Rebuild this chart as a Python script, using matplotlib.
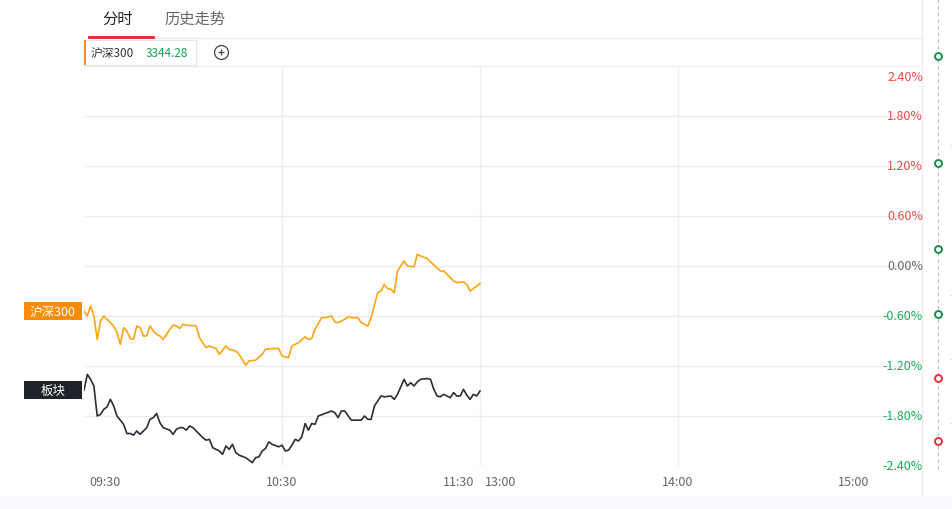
import matplotlib
matplotlib.use('Agg')
import matplotlib.pyplot as plt
from matplotlib.transforms import blended_transform_factory, offset_copy
from matplotlib.patches import Rectangle
from matplotlib.lines import Line2D

plt.rcParams['font.family'] = ['Noto Sans CJK SC', 'DejaVu Sans']

# ---------------- data ----------------
# minutes since 09:30 (trading minutes; 120 = 11:30 / 13:00, 240 = 15:00)
hs300_min = [0, 1, 2, 3, 4, 5, 6, 7, 9, 10, 11, 12, 13, 14, 15, 16, 17, 18, 19, 20,
             21, 22, 23, 24, 25, 26, 27, 28, 29, 30, 31, 34, 35, 37, 38, 40, 41, 43, 44, 46,
             47, 49, 50, 52, 54, 55, 57, 59, 60, 62, 63, 65, 67, 68, 69, 70, 72, 73, 75, 76,
             77, 79, 80, 81, 83, 84, 86, 87, 89, 90, 91, 92, 93, 94, 95, 97, 98, 100, 101, 102,
             104, 105, 108, 109, 112, 113, 115, 116, 117, 118, 120]
hs300_pct = [-0.54, -0.60, -0.48, -0.60, -0.88, -0.66, -0.60, -0.64, -0.72, -0.80,
             -0.94, -0.74, -0.78, -0.87, -0.88, -0.72, -0.74, -0.84, -0.84, -0.72,
             -0.78, -0.82, -0.84, -0.88, -0.82, -0.76, -0.71, -0.72, -0.75, -0.70,
             -0.71, -0.72, -0.86, -0.98, -0.96, -0.99, -1.06, -0.96, -1.00, -1.02,
             -1.06, -1.19, -1.14, -1.13, -1.06, -1.00, -0.99, -0.99, -1.08, -1.10,
             -0.96, -0.92, -0.85, -0.88, -0.87, -0.76, -0.62, -0.62, -0.60, -0.67,
             -0.68, -0.64, -0.61, -0.62, -0.62, -0.68, -0.72, -0.62, -0.32, -0.30,
             -0.22, -0.27, -0.28, -0.32, -0.06, 0.06, 0.00, -0.01, 0.14, 0.12,
             0.09, 0.05, -0.06, -0.06, -0.18, -0.20, -0.19, -0.22, -0.30, -0.27,
             -0.21]

sector_min = [0, 1, 2, 3, 4, 5, 6, 7, 8, 9, 10, 12, 13, 14, 15, 16, 17, 19, 20, 21,
              22, 23, 24, 26, 27, 28, 29, 30, 31, 32, 33, 35, 36, 37, 38, 39, 41, 42, 43, 44,
              45, 46, 47, 49, 51, 52, 53, 54, 55, 56, 57, 59, 60, 61, 62, 63, 64, 65, 66, 67,
              68, 69, 70, 71, 73, 75, 76, 77, 78, 79, 81, 84, 85, 86, 87, 88, 90, 91, 93, 94,
              95, 97, 98, 99, 100, 101, 102, 104, 105, 106, 107, 108, 109, 110, 111, 112, 113, 114, 115, 116,
              117, 118, 119, 120]
sector_pct = [-1.49, -1.30, -1.36, -1.44, -1.80, -1.78, -1.72, -1.69, -1.60, -1.68,
              -1.80, -1.90, -2.01, -2.01, -2.03, -1.98, -2.02, -1.94, -1.84, -1.82,
              -1.77, -1.88, -1.94, -1.97, -2.02, -1.96, -1.94, -1.94, -1.97, -1.92,
              -1.94, -2.02, -2.06, -2.09, -2.08, -2.18, -2.22, -2.26, -2.16, -2.20,
              -2.14, -2.24, -2.27, -2.30, -2.36, -2.30, -2.29, -2.22, -2.19, -2.11,
              -2.14, -2.17, -2.15, -2.22, -2.21, -2.15, -2.08, -2.10, -2.05, -1.89,
              -1.97, -1.89, -1.90, -1.80, -1.77, -1.74, -1.76, -1.82, -1.74, -1.74,
              -1.85, -1.85, -1.80, -1.84, -1.84, -1.68, -1.56, -1.57, -1.56, -1.60,
              -1.54, -1.36, -1.44, -1.40, -1.44, -1.39, -1.36, -1.35, -1.36, -1.48,
              -1.56, -1.57, -1.54, -1.56, -1.58, -1.52, -1.56, -1.56, -1.48, -1.55,
              -1.60, -1.54, -1.56, -1.50]

y_ticks = [2.4, 1.8, 1.2, 0.6, 0.0, -0.6, -1.2, -1.8, -2.4]
x_tick_pos = [0, 60, 120, 120, 180, 240]
x_tick_labels = ['09:30', '10:30', '11:30', '13:00', '14:00', '15:00']
tabs = ['分时', '历史走势']
index_name = '沪深300'
index_price = '3344.28'
series_labels = ['沪深300', '板块']
side_dot_colors = ['#1a8f4a', '#1a8f4a', '#1a8f4a', '#1a8f4a', '#e8303a', '#e8303a']

# ---------------- colours ----------------
C_ORANGE_LINE = '#ffa514'
C_ORANGE_TAG = '#fa8c0a'
C_DARK = '#2b2e38'
C_RED = '#f04848'
C_GREEN = '#13b157'
C_GRID = '#efefef'
C_TEXT = '#666666'

W, H = 953, 510


def fx(x):
    return x / W


def fy(y):
    return 1 - y / H


fig = plt.figure(figsize=(W / 100, H / 100), dpi=100)
fig.patch.set_facecolor('white')

# axes: x 84..922 px, y 67..467 px
ax_left, ax_right, ax_top, ax_bottom = 84, 922, 67, 467
ax = fig.add_axes([fx(ax_left), fy(ax_bottom), (ax_right - ax_left) / W, (ax_bottom - ax_top) / H])
px_per_min = (876 - 84) / 240.0
ax.set_xlim(0, (ax_right - ax_left) / px_per_min)
ax.set_ylim(-2.4, 2.4)
ax.set_facecolor('none')
for s in ax.spines.values():
    s.set_visible(False)
ax.set_xticks([])
ax.set_yticks([])

# grid
for yv in y_ticks:
    ax.axhline(yv, color=C_GRID, lw=1, zorder=0)
for xv in sorted(set(x_tick_pos))[1:-1]:
    ax.axvline(xv, color=C_GRID, lw=1, zorder=0)

# lines
ax.plot(hs300_min, hs300_pct, color=C_ORANGE_LINE, lw=1.2, zorder=3, solid_joinstyle='round')
ax.plot(sector_min, sector_pct, color=C_DARK, lw=1.2, zorder=3, solid_joinstyle='round')

# y labels on the right
ytrans = blended_transform_factory(ax.transAxes, ax.transData)
for yv in y_ticks:
    col = C_RED if yv > 0 else (C_GREEN if yv < 0 else C_TEXT)
    dy = -11 if yv == max(y_ticks) else 0
    tr = offset_copy(ytrans, fig=fig, x=1, y=dy, units='dots')
    ax.text(1.0, yv, f'{yv:.2f}%', transform=tr, ha='right', va='center',
            color=col, fontsize=9, zorder=5)

# x labels
xtrans = blended_transform_factory(ax.transData, fig.transFigure)
has = ['left', 'center', 'right', 'left', 'center', 'right']
dxs = [5, 0, -6, 5, 0, -7]
for pos, lab, ha, dx in zip(x_tick_pos, x_tick_labels, has, dxs):
    tr = offset_copy(xtrans, fig=fig, x=dx, y=0, units='dots')
    fig.text(pos, fy(483), lab, transform=tr, ha=ha, va='center', color=C_TEXT, fontsize=9)

# left series tags at the first value of each series
tag_tr = blended_transform_factory(fig.transFigure, ax.transData)
for lab, first, col in zip(series_labels, [hs300_pct[0], sector_pct[0]], [C_ORANGE_TAG, '#1f2229']):
    yc = ax.transData.transform((0, first))[1]
    fig.patches.append(Rectangle((fx(24), (yc - 9) / H), (82 - 24) / W, 18 / H,
                                 transform=fig.transFigure, facecolor=col, edgecolor='none', zorder=1))
    fig.text(fx(53), first, lab, transform=tag_tr, ha='center', va='center', color='white',
             fontsize=9, zorder=6)

# ---------------- header ----------------
fig.text(fx(118), fy(19), tabs[0], ha='center', va='center', fontsize=11, color='#222222')
fig.text(fx(195), fy(19), tabs[1], ha='center', va='center', fontsize=11, color='#666666')
fig.add_artist(Line2D([fx(153), fx(922)], [fy(38.5), fy(38.5)], transform=fig.transFigure,
                      color='#ececec', lw=1))
fig.add_artist(Line2D([fx(89), fx(153)], [fy(37.5), fy(37.5)], transform=fig.transFigure,
                      color='#e3252b', lw=2))

# legend box
fig.patches.append(Rectangle((fx(84), fy(66)), (196 - 84) / W, 25 / H, transform=fig.transFigure,
                             facecolor='white', edgecolor='#e6e6e6', lw=0.8, zorder=2))
fig.patches.append(Rectangle((fx(84), fy(66)), 2 / W, 25 / H, transform=fig.transFigure,
                             facecolor=C_ORANGE_TAG, edgecolor='none', zorder=3))
fig.text(fx(91), fy(53.5), index_name, ha='left', va='center', fontsize=8.5, color='#333333')
fig.text(fx(146), fy(53.5), index_price, ha='left', va='center', fontsize=8.5, color='#14a050')
fig.add_artist(Line2D([fx(221)], [fy(52.5)], transform=fig.transFigure, marker='o', markersize=10,
                      markerfacecolor='white', markeredgecolor='#444444', markeredgewidth=0.9, ls='none'))
fig.add_artist(Line2D([fx(221)], [fy(52.5)], transform=fig.transFigure, marker='+', markersize=5,
                      markeredgecolor='#444444', markeredgewidth=0.9, ls='none'))

# right side separators
fig.add_artist(Line2D([fx(922.5), fx(922.5)], [0, 1], transform=fig.transFigure,
                      color='#eeeeee', lw=1, zorder=0))
fig.add_artist(Line2D([fx(938.5), fx(938.5)], [fy(0), fy(471)], transform=fig.transFigure,
                      color='#bbbbbb', lw=0.8, ls=(0, (3, 3))))
for yy, c in zip([57, 164, 250, 315, 379, 442], side_dot_colors):
    fig.add_artist(Line2D([fx(938.5)], [fy(yy)], transform=fig.transFigure, marker='o', markersize=5,
                          markerfacecolor='white', markeredgecolor=c, markeredgewidth=1.4, ls='none'))
for yy in [146, 296, 360, 424]:
    fig.add_artist(Line2D([fx(950), fx(953)], [fy(yy), fy(yy)], transform=fig.transFigure,
                          color='#e6e6e6', lw=1))

# bottom band
fig.patches.append(Rectangle((0, 0), 1, 13 / H, transform=fig.transFigure,
                             facecolor='#f7f9fc', edgecolor='none', zorder=0))

fig.savefig('out.png', dpi=100)
